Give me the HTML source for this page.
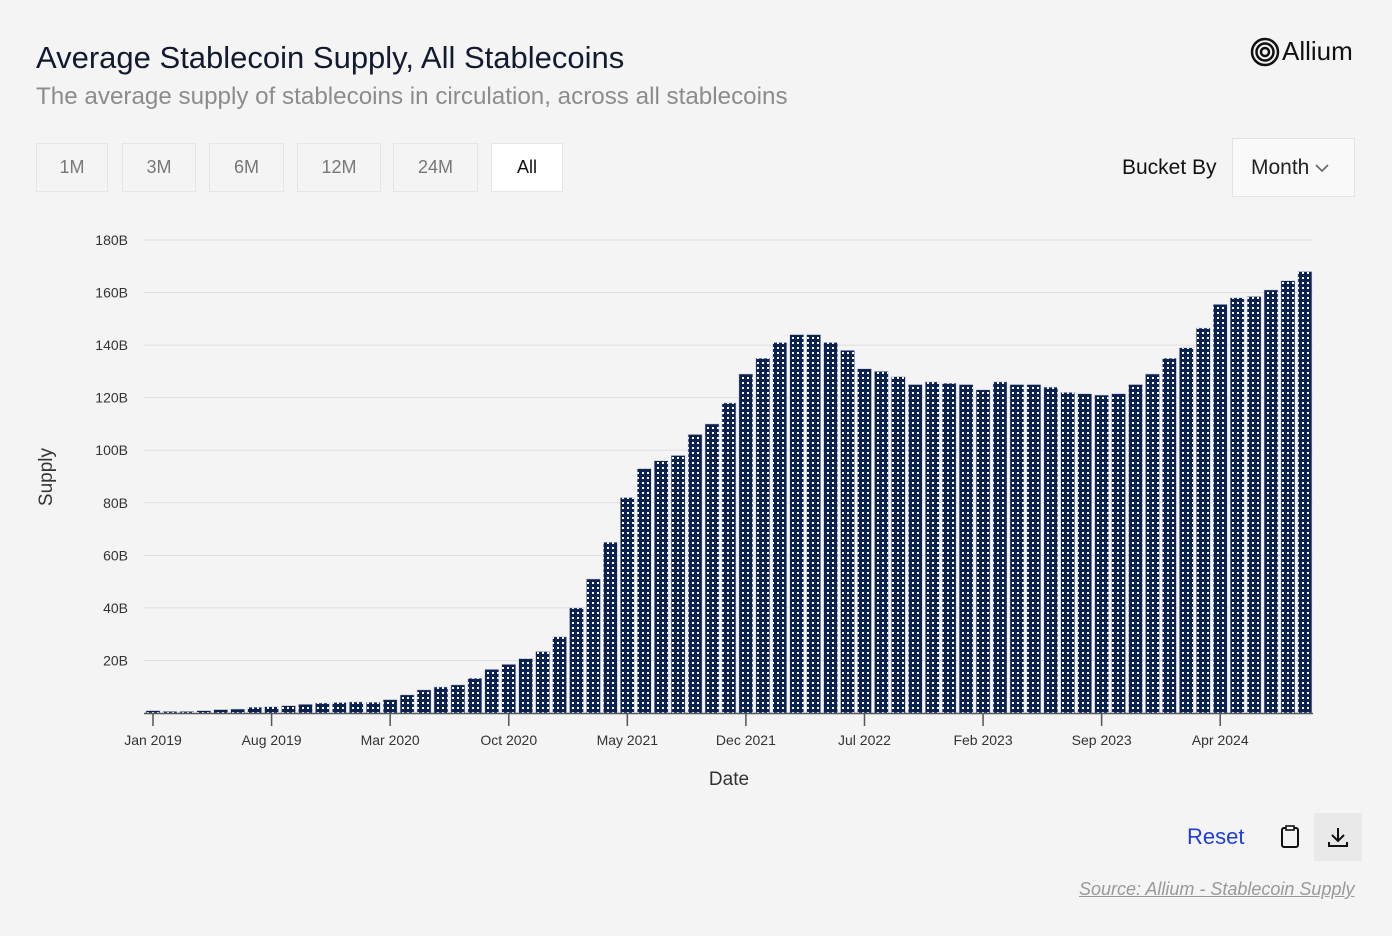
<!DOCTYPE html>
<html><head><meta charset="utf-8">
<style>
body{margin:0;width:1392px;height:936px;background:#f4f4f4;font-family:"Liberation Sans",sans-serif;position:relative;overflow:hidden}
.abs{position:absolute}
.btn{position:absolute;top:143px;height:49px;border:1px solid #e6e6e6;box-sizing:border-box;display:flex;align-items:center;justify-content:center;font-size:18px;color:#777;background:#f4f4f4}
</style></head><body>
<div class="abs" style="left:36px;top:40px;font-size:31px;color:#111a2e">Average Stablecoin Supply, All Stablecoins</div>
<div class="abs" style="left:36px;top:83px;font-size:24.2px;color:#8c8c8c">The average supply of stablecoins in circulation, across all stablecoins</div>
<div class="abs" style="left:1250px;top:36px;display:flex;align-items:center;font-size:26px;color:#111">
<svg width="30" height="30" viewBox="0 0 30 30"><circle cx="15" cy="15" r="13" fill="none" stroke="#111" stroke-width="2.5"/><circle cx="15" cy="15" r="8.5" fill="none" stroke="#111" stroke-width="2.5"/><circle cx="15" cy="15" r="4" fill="none" stroke="#111" stroke-width="2.5"/></svg><span style="margin-left:2px">Allium</span></div>
<div class="btn" style="left:36px;width:72px">1M</div>
<div class="btn" style="left:122px;width:74px">3M</div>
<div class="btn" style="left:209px;width:75px">6M</div>
<div class="btn" style="left:297px;width:84px">12M</div>
<div class="btn" style="left:393px;width:85px">24M</div>
<div class="btn" style="left:491px;width:72px;background:#fff;color:#111">All</div>
<div class="abs" style="left:1122px;top:156px;font-size:21px;color:#111">Bucket By</div>
<div class="abs" style="left:1232px;top:138px;width:123px;height:59px;box-sizing:border-box;border:1px solid #e3e3e3;background:#f9f9f9;font-size:21px;color:#222;display:flex;align-items:center;padding-left:18px">Month<svg width="16" height="10" style="margin-left:5px"><path d="M2 2 L8 8 L14 2" fill="none" stroke="#666" stroke-width="1.6"/></svg></div>
<svg class="abs" style="left:0;top:0" width="1392" height="936">
<defs><pattern id="dots" width="5" height="5" patternUnits="userSpaceOnUse"><rect width="5" height="5" fill="#0b2150"/><rect x="2" y="2" width="2" height="2" fill="#fff"/></pattern></defs>
<g id="grid"></g><g id="bars"></g><g id="axis"></g>
<text x="52" y="477" transform="rotate(-90 52 477)" text-anchor="middle" font-size="19" fill="#333" font-family="Liberation Sans">Supply</text>
<text x="729" y="785" text-anchor="middle" font-size="19" fill="#333" font-family="Liberation Sans">Date</text>
</svg>
<div class="abs" style="left:1187px;top:824px;font-size:22px;color:#1f3fd1">Reset</div>
<div class="abs" style="left:1278px;top:824px"><svg width="24" height="26"><rect x="4" y="4" width="16" height="19" rx="2" fill="none" stroke="#111" stroke-width="2"/><rect x="8" y="2" width="8" height="4" fill="#fff" stroke="#111" stroke-width="1.6"/></svg></div>
<div class="abs" style="left:1314px;top:813px;width:48px;height:48px;background:#e9e9e9;display:flex;align-items:center;justify-content:center"><svg width="24" height="24"><path d="M12 3 V15 M6 10 L12 16 L18 10 M3 17 V21 H21 V17" fill="none" stroke="#111" stroke-width="2"/></svg></div>
<div class="abs" style="left:1079px;top:879px;font-size:18px;color:#999;font-style:italic;text-decoration:underline">Source: Allium - Stablecoin Supply</div>
<script>
const months=["Jan 2019","Aug 2019","Mar 2020","Oct 2020","May 2021","Dec 2021","Jul 2022","Feb 2023","Sep 2023","Apr 2024"];
const monthIdx=[0,7,14,21,28,35,42,49,56,63];
const supply=[0.9,0.6,0.6,0.9,1.3,1.5,2.2,2.4,2.8,3.3,3.8,4.0,4.2,4.1,5.1,6.9,8.8,9.9,10.7,13.2,16.6,18.5,20.7,23.4,
29,40,51,65,82,93,96,98,106,110,118,129,135,141,144,144,141,138,131,130,128,125,126,125.5,125,123,126,125,125,124,122,121.5,121,121.5,125,129,135,139,146.5,155.5,158,158.5,161,164.5,168];
const yTicks=[20,40,60,80,100,120,140,160,180];
const NS="http://www.w3.org/2000/svg";
const y0=713,ppb=(713-240)/180;
const yS=v=>y0-v*ppb;
const xS=i=>153+i*16.94;
const g=document.getElementById('grid'),b=document.getElementById('bars'),a=document.getElementById('axis');
function mk(t,at,p){const e=document.createElementNS(NS,t);for(const k in at)e.setAttribute(k,at[k]);p.appendChild(e);return e;}
yTicks.forEach(v=>{
 const l=mk('line',{x1:144,x2:1313,y1:yS(v),y2:yS(v),stroke:'#dedede','stroke-width':1},g);
 
 
 const t=mk('text',{x:128,y:yS(v)+5,'text-anchor':'end','font-size':14,fill:'#333','font-family':'Liberation Sans'},g);
 t.textContent=v+'B';
 
 
});
supply.forEach((v,i)=>{
 const r=mk('rect',{x:xS(i)-7,y:yS(v),width:14,height:v*ppb,fill:'url(#dots)',stroke:'#c9cfdb','stroke-width':0.5},b);
 
 
});
const ax=mk('line',{x1:144,x2:1313,y1:713.5,y2:713.5,stroke:'#555','stroke-width':1.5},a);


months.forEach((m,k)=>{
 const x=xS(monthIdx[k]);
 mk('line',{x1:x,x2:x,y1:714,y2:726,stroke:'#555','stroke-width':1.5},a);
 const t=mk('text',{x:x,y:745,'text-anchor':'middle','font-size':14,fill:'#333','font-family':'Liberation Sans'},a);
 t.textContent=m;
 
 
});
</script>
</body></html>
